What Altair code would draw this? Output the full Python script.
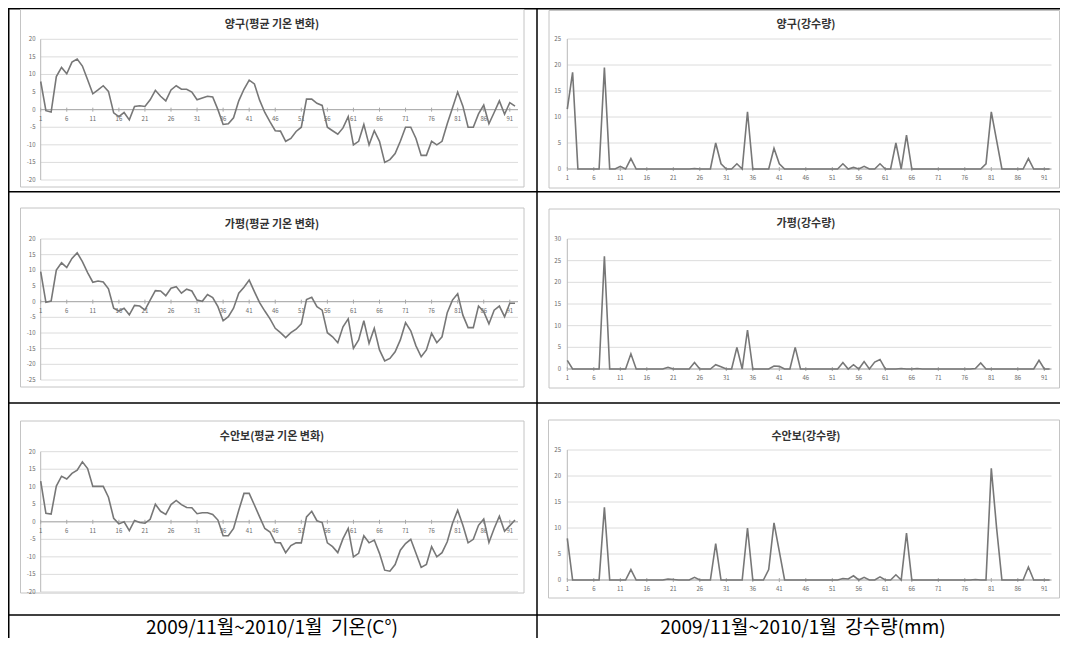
import altair as alt
import pandas as pd

# ---------------- data ----------------
days = list(range(1, 93))
x_labels = list(range(1, 92, 5))

yanggu_temp = [8, -0.3, -0.7, 9.4, 12, 10.2, 13.5, 14.4, 12.4, 8.5,
               4.5, 5.6, 6.8, 5.2, -0.9, -2, -0.8, -2.9, 0.9, 1.1,
               0.9, 2.8, 5.5, 3.8, 2.5, 5.6, 6.8, 5.8, 5.8, 5,
               2.8, 3.3, 3.8, 3.6, 0, -4.2, -4, -2.3, 2.5, 5.8,
               8.4, 7.3, 2.7, -0.8, -3.5, -6, -6.1, -9, -8.2, -6.2,
               -5, 3, 3, 1.8, 1.2, -5, -6, -7, -5.2, -2,
               -10, -9, -4.2, -10, -6, -9, -15, -14.2, -12.5, -9,
               -5, -5, -8.2, -13, -13, -9, -10, -9, -4, 0.5,
               5, 1, -5, -5, -1.2, 1.3, -4, -0.8, 2.5, -1.3,
               2, 1]
yanggu_rain = [11.5, 18.6, 0, 0, 0, 0, 0, 19.5, 0, 0,
               0.5, 0, 2, 0, 0, 0, 0, 0, 0, 0,
               0, 0, 0, 0, 0.1, 0, 0, 0, 5, 1,
               0, 0, 1, 0, 11, 0, 0, 0, 0, 4,
               1, 0, 0, 0, 0, 0, 0, 0, 0, 0,
               0, 0, 1, 0, 0.3, 0, 0.5, 0, 0, 1,
               0, 0, 5, 0, 6.5, 0, 0, 0, 0, 0,
               0, 0, 0, 0, 0, 0, 0, 0, 0, 1,
               11, 5.5, 0, 0, 0, 0, 0, 2, 0, 0,
               0, 0]
gapyeong_temp = [9.6, -0.2, 0.2, 10.1, 12.4, 10.9, 13.8, 15.6, 12.8, 9.3,
                 6.2, 6.6, 6.3, 4.1, -2.1, -3, -2.1, -4.2, -1.2, -1.4,
                 -2.7, 0.5, 3.5, 3.4, 1.9, 4.3, 4.8, 2.7, 4, 3.4,
                 0.5, 0.1, 2.3, 1.3, -1.6, -6.1, -4.8, -2.1, 2.7, 4.6,
                 6.9, 3.2, -0.3, -3, -5.5, -8.5, -9.9, -11.5, -9.9, -8.8,
                 -7.1, 0.7, 1.4, -1.6, -2.7, -9.9, -11.2, -13.1, -8, -5.5,
                 -14.9, -12.2, -6.1, -13.3, -8.5, -15.4, -18.9, -18.1, -16, -12.2,
                 -6.7, -9.3, -14.1, -17.6, -15.4, -10.1, -13.1, -11.2, -3.5, 0.5,
                 2.5, -4.3, -8.3, -8.3, -1.4, -3.2, -7.1, -2.7, -1.4, -4.8,
                 -0.5, -0.5]
gapyeong_rain = [2, 0, 0, 0, 0, 0, 0, 26, 0, 0,
                 0, 0, 3.5, 0, 0, 0, 0, 0, 0, 0.4,
                 0, 0, 0, 0, 1.5, 0, 0, 0, 1, 0.5,
                 0, 0, 5, 0, 9, 0, 0, 0, 0, 0.7,
                 0.6, 0, 0, 5, 0, 0, 0, 0, 0, 0,
                 0, 0, 1.5, 0, 1, 0, 1.7, 0, 1.6, 2.2,
                 0, 0, 0, 0.1, 0, 0, 0.1, 0, 0, 0,
                 0, 0, 0, 0, 0, 0, 0, 0.1, 1.4, 0,
                 0, 0, 0, 0, 0, 0, 0, 0, 0, 2,
                 0, 0]
suanbo_temp = [11.6, 2.4, 2.2, 10.2, 13, 12.2, 13.8, 14.7, 17.1, 15.2,
               10.1, 10.1, 10.1, 7, 1, -0.6, 0, -2.5, 0.4, -0.2,
               -0.4, 0.7, 5, 3, 2.1, 4.9, 6.1, 4.9, 4.1, 4,
               2.3, 2.6, 2.6, 2.1, 0.5, -4, -4, -1.9, 3.3, 8.1,
               8.1, 4.8, 1.4, -1.9, -2.9, -5.9, -6, -8.8, -6.8, -6,
               -6, 1.4, 3, 0.3, -0.2, -6, -7.1, -8.8, -4.8, -1.9,
               -10, -9, -4, -6, -5.2, -9, -13.8, -14.1, -12.2, -8.1,
               -6.2, -5, -9, -13, -12.2, -7.1, -10, -8.8, -5.7, -0.5,
               3.3, -1, -6, -5, -1, 0.8, -5.9, -1.9, 1.6, -2.7,
               -1.1, 0.5]
suanbo_rain = [8, 0, 0, 0, 0, 0, 0, 14, 0, 0,
               0, 0, 2, 0, 0, 0, 0, 0, 0, 0.2,
               0.1, 0, 0, 0, 0.5, 0, 0, 0, 7, 0,
               0, 0, 0, 0, 10, 0, 0, 0, 2, 11,
               5.5, 0, 0, 0, 0, 0, 0, 0, 0, 0,
               0, 0, 0.3, 0.2, 0.8, 0, 0.5, 0, 0, 0.6,
               0, 0, 1, 0, 9, 0, 0, 0, 0, 0,
               0, 0, 0, 0, 0, 0, 0, 0.1, 0, 0,
               21.5, 10, 0, 0, 0, 0, 0, 2.5, 0, 0,
               0, 0]

temp_titles = ["양구(평균 기온 변화)", "가평(평균 기온 변화)", "수안보(평균 기온 변화)"]
rain_titles = ["양구(강수량)", "가평(강수량)", "수안보(강수량)"]
temp_domains = [[-20, 20], [-25, 20], [-20, 20]]
rain_domains = [[0, 25], [0, 30], [0, 25]]
captions = ["2009/11월~2010/1월\u00a0\u00a0기온(C°)", "2009/11월~2010/1월\u00a0\u00a0강수량(mm)"]

# ---------------- styling / layout ----------------
FONT = "Noto Sans CJK KR"
W, H = 1052, 630
ONE = pd.DataFrame({"k": [0]})


def panel(values, title, xr, gx2, yr, ydom, lab_x, title_x, title_y, frame):
    xs = alt.Scale(domain=[1, 92], range=xr, nice=False, zero=False)
    ys = alt.Scale(domain=ydom, range=yr, nice=False, zero=False)
    ticks = list(range(ydom[0], ydom[1] + 1, 5))
    line_df = pd.DataFrame({"day": days, "v": values})
    tick_df = pd.DataFrame({"t": ticks, "lab": [str(t) for t in ticks]})
    xl_df = pd.DataFrame({"d": x_labels, "z": [0] * len(x_labels),
                          "lab": [str(d) for d in x_labels]})
    fx, fx2, fy, fy2 = frame

    frame_l = alt.Chart(ONE).mark_rect(fill="white", stroke="#c4c4c4", strokeWidth=1).encode(
        x=alt.value(fx), x2=alt.value(fx2), y=alt.value(fy), y2=alt.value(fy2))
    grid = alt.Chart(tick_df).mark_rule(color="#dcdcdc", strokeWidth=1).encode(
        y=alt.Y("t:Q", scale=ys, axis=None), x=alt.value(xr[0]), x2=alt.value(gx2))
    yaxis = alt.Chart(pd.DataFrame({"a": [ydom[0]], "b": [ydom[1]]})).mark_rule(
        color="#b8b8b8", strokeWidth=1).encode(
        x=alt.value(xr[0]), y=alt.Y("a:Q", scale=ys, axis=None), y2="b:Q")
    zero = alt.Chart(pd.DataFrame({"z": [0]})).mark_rule(color="#a8a8a8", strokeWidth=1).encode(
        y=alt.Y("z:Q", scale=ys, axis=None), x=alt.value(xr[0]), x2=alt.value(gx2))
    tks = alt.Chart(xl_df).mark_rule(color="#a8a8a8", strokeWidth=1, yOffset=-2, y2Offset=2).encode(
        x=alt.X("d:Q", scale=xs, axis=None), y=alt.Y("z:Q", scale=ys, axis=None), y2="z:Q")
    xlab = alt.Chart(xl_df).mark_text(font=FONT, fontSize=6, color="#6a6a6a",
                                      baseline="middle", dy=9).encode(
        x=alt.X("d:Q", scale=xs, axis=None), y=alt.Y("z:Q", scale=ys, axis=None), text="lab:N")
    ylab = alt.Chart(tick_df).mark_text(font=FONT, fontSize=6, color="#6a6a6a",
                                        align="right", baseline="middle").encode(
        y=alt.Y("t:Q", scale=ys, axis=None), x=alt.value(lab_x), text="lab:N")
    line = alt.Chart(line_df).mark_line(color="#777777", strokeWidth=1.6).encode(
        x=alt.X("day:Q", scale=xs, axis=None), y=alt.Y("v:Q", scale=ys, axis=None))
    ttl = alt.Chart(pd.DataFrame({"t": [title]})).mark_text(
        font=FONT, fontSize=11, fontWeight="bold", color="#333333", baseline="middle").encode(
        text="t:N", x=alt.value(title_x), y=alt.value(title_y))
    return alt.layer(frame_l, grid, yaxis, zero, tks, xlab, ylab, line, ttl)


# left (temperature) panels
left_y = [[172.0, 31.3], [372.0, 231.0], [583.9, 443.7]]
left_title_y = [17.3, 216.5, 429.0]
left_frames = [(12.5, 516, 1.5, 179), (12.5, 516, 200, 379), (12.5, 516, 413, 585)]
# right (precipitation) panels
right_y = [[161.0, 31.0], [361.0, 231.0], [572.0, 442.0]]
right_title_y = [17.3, 215.7, 428.5]
right_frames = [(541, 1051.5, 2.5, 180), (541, 1051.5, 201, 380), (540.5, 1051.5, 412, 590)]

temps = [yanggu_temp, gapyeong_temp, suanbo_temp]
rains = [yanggu_rain, gapyeong_rain, suanbo_rain]

panels = []
for i in range(3):
    panels.append(panel(temps[i], temp_titles[i], [32.7, 507.0], 510, left_y[i],
                        temp_domains[i], 27.5, 264, left_title_y[i], left_frames[i]))
    panels.append(panel(rains[i], rain_titles[i], [559.3, 1041.6], 1043.5, right_y[i],
                        rain_domains[i], 553, 798, right_title_y[i], right_frames[i]))

# table lines
def hline(y):
    return alt.Chart(ONE).mark_rule(color="black", strokeWidth=1.5).encode(
        x=alt.value(0), x2=alt.value(W), y=alt.value(y))


def vline(x):
    return alt.Chart(ONE).mark_rule(color="black", strokeWidth=1.5).encode(
        x=alt.value(x), y=alt.value(0), y2=alt.value(H))


table = [hline(0.75), hline(183.7), hline(395.0), hline(607.0), vline(0.75), vline(529.0)]

caps = [
    alt.Chart(pd.DataFrame({"t": [captions[0]]})).mark_text(
        font=FONT, fontSize=19, color="black", baseline="alphabetic").encode(
        text="t:N", x=alt.value(264), y=alt.value(626)),
    alt.Chart(pd.DataFrame({"t": [captions[1]]})).mark_text(
        font=FONT, fontSize=19, color="black", baseline="alphabetic").encode(
        text="t:N", x=alt.value(795), y=alt.value(626)),
]

chart = alt.layer(*table, *panels, *caps).resolve_scale(
    x="independent", y="independent"
).properties(
    width=W, height=H, padding=0,
    autosize=alt.AutoSizeParams(type="none"),
    background="white",
).configure_view(stroke=None)

chart.save("out.html", embed_options={"renderer": "svg", "actions": False})
